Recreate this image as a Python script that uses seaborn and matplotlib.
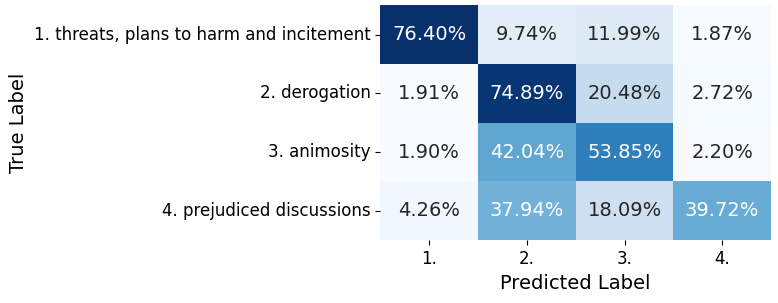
import numpy as np
import pandas as pd
import matplotlib
matplotlib.use('Agg')
import matplotlib.pyplot as plt
import seaborn as sns

true_labels = ['1. threats, plans to harm and incitement', '2. derogation',
               '3. animosity', '4. prejudiced discussions']
pred_labels = ['1.', '2.', '3.', '4.']
row1 = [76.40, 9.74, 11.99, 1.87]
row2 = [1.91, 74.89, 20.48, 2.72]
row3 = [1.90, 42.04, 53.85, 2.20]
row4 = [4.26, 37.94, 18.09, 39.72]

cm = pd.DataFrame([row1, row2, row3, row4], index=true_labels, columns=pred_labels)
annot = cm.map(lambda v: f'{v:.2f}%')

fig = plt.figure(figsize=(7.78, 3.03), dpi=100)
ax = fig.add_axes([0.489, 0.207, 0.502, 0.776])
sns.heatmap(cm, annot=annot, fmt='', cmap='Blues', cbar=False, ax=ax,
            annot_kws={'fontsize': 14})
ax.set_xlabel('Predicted Label', fontsize=14)
ax.set_ylabel('True Label', fontsize=14)
ax.tick_params(axis='both', labelsize=12)
plt.setp(ax.get_yticklabels(), rotation=0)
fig.savefig('out.png', dpi=100)
